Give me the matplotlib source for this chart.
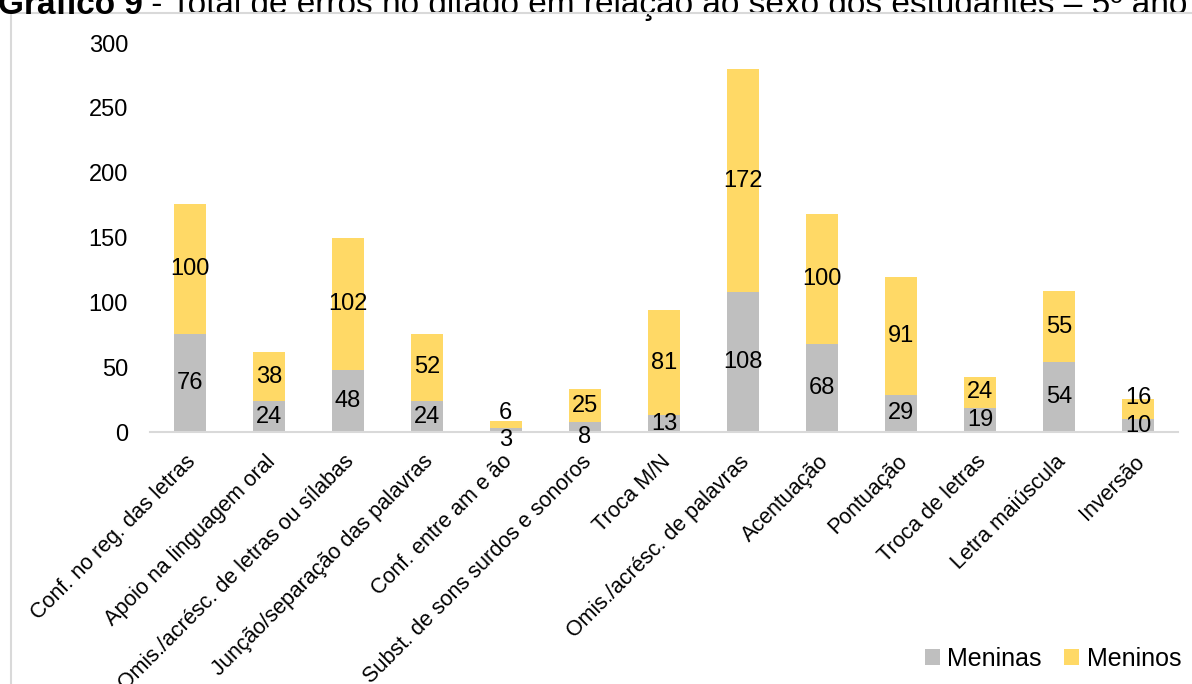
import matplotlib.pyplot as plt
import matplotlib.transforms as mtransforms
import numpy as np
from matplotlib.patches import Rectangle

plt.rcParams["font.family"] = ["Liberation Sans", "DejaVu Sans"]

CATEGORIES = [
    "Conf. no reg. das letras",
    "Apoio na linguagem oral",
    "Omis./acrésc. de letras ou sílabas",
    "Junção/separação das palavras",
    "Conf. entre am e ão",
    "Subst. de sons surdos e sonoros",
    "Troca M/N",
    "Omis./acrésc. de palavras",
    "Acentuação",
    "Pontuação",
    "Troca de letras",
    "Letra maiúscula",
    "Inversão",
]
MENINAS = [76, 24, 48, 24, 3, 8, 13, 108, 68, 29, 19, 54, 10]
MENINOS = [100, 38, 102, 52, 6, 25, 81, 172, 100, 91, 24, 55, 16]
Y_TICKS = [0, 50, 100, 150, 200, 250, 300]

GRAY = "#BFBFBF"
YELLOW = "#FFD966"
FS = 17

fig = plt.figure(figsize=(11.92, 6.84), dpi=100)
ax = fig.add_axes([0.126, 0.368, 0.862, 0.569])

# outer chart frame
fig.patches.append(Rectangle((0.009, -0.01), 1.0, 0.991, transform=fig.transFigure,
                             fill=False, edgecolor="#D9D9D9", linewidth=1.5))

x = np.arange(len(CATEGORIES))
girls = np.array(MENINAS)
boys = np.array(MENINOS)
ax.bar(x, girls, width=0.4, color=GRAY, label="Meninas")
ax.bar(x, boys, width=0.4, bottom=girls, color=YELLOW, label="Meninos")

# value labels centred in each segment, nudged apart on thin bars
for i in x:
    dy = -7 if girls[i] < 10 else 0
    ax.annotate(str(girls[i]), (i, girls[i] / 2), xytext=(0, dy), textcoords="offset points",
                ha="center", va="center", fontsize=FS)
    dy = 8 if boys[i] < 20 else 0
    ax.annotate(str(boys[i]), (i, girls[i] + boys[i] / 2), xytext=(0, dy), textcoords="offset points",
                ha="center", va="center", fontsize=FS)

ax.set_xlim(-0.5, len(CATEGORIES) - 0.5)
ax.set_ylim(0, 300)
ax.set_yticks(Y_TICKS)
ax.tick_params(axis="y", length=0, labelsize=FS, pad=16)
ax.tick_params(axis="x", length=0, labelsize=15.5, pad=13.5)
ax.set_xticks(x)
ax.set_xticklabels(CATEGORIES, rotation=45, ha="right", rotation_mode="anchor")
# nudge the slanted labels slightly left of the bar centre
shift = mtransforms.ScaledTranslation(-3 / 72, 0, fig.dpi_scale_trans)
for lbl in ax.get_xticklabels():
    lbl.set_transform(lbl.get_transform() + shift)
for side in ["top", "right", "left"]:
    ax.spines[side].set_visible(False)
ax.spines["bottom"].set_color("#D9D9D9")
ax.spines["bottom"].set_linewidth(1.5)

fig.legend(loc="lower right", bbox_to_anchor=(1.01, -0.014), ncol=2, frameon=False,
           fontsize=18, handlelength=0.6, handleheight=0.6, handletextpad=0.3, columnspacing=0.9)

title = fig.text(-0.002, 0.979, "Gráfico 9", fontsize=24, fontweight="bold", va="baseline", ha="left")
ax.annotate(" - Total de erros no ditado em relação ao sexo dos estudantes – 5º ano",
            xy=(1, 0), xycoords=title, va="bottom", ha="left", fontsize=24,
            annotation_clip=False)

fig.savefig("out.png", dpi=100)
